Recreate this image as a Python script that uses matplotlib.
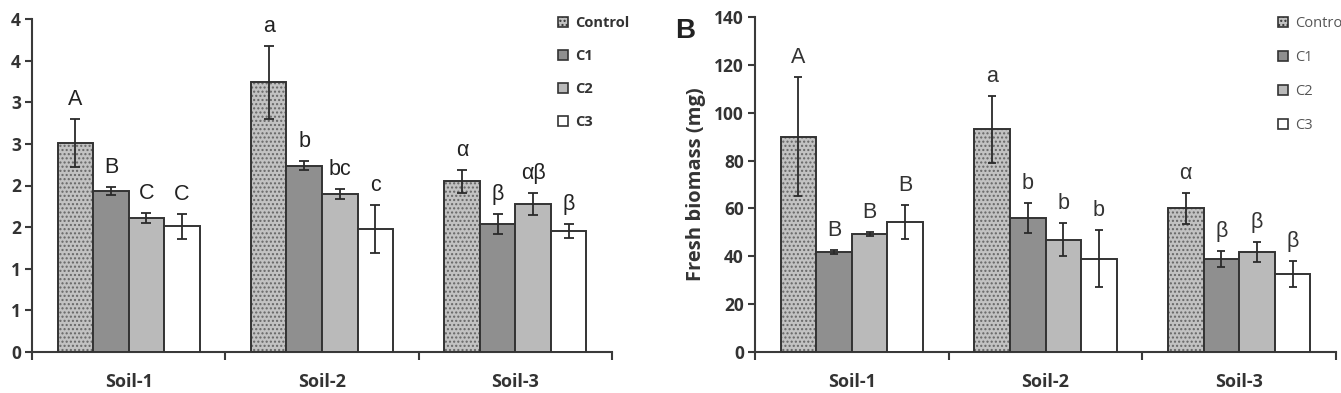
import matplotlib
matplotlib.use("Agg")
import matplotlib.pyplot as plt
from matplotlib.patches import Patch
import numpy as np

soils = ["Soil-1", "Soil-2", "Soil-3"]
treatments = ["Control", "C1", "C2", "C3"]

# Panel A (values per treatment, across soils)
a_vals = {
    "Control": [2.51, 3.24, 2.05],
    "C1": [1.93, 2.24, 1.54],
    "C2": [1.61, 1.90, 1.78],
    "C3": [1.51, 1.48, 1.45],
}
a_err = {
    "Control": [0.29, 0.44, 0.135],
    "C1": [0.05, 0.05, 0.12],
    "C2": [0.06, 0.06, 0.13],
    "C3": [0.15, 0.29, 0.085],
}
a_letters = {
    "Control": ["A", "a", "α"],
    "C1": ["B", "b", "β"],
    "C2": ["C", "bc", "αβ"],
    "C3": ["C", "c", "β"],
}
a_ticks = [0, 0.5, 1, 1.5, 2, 2.5, 3, 3.5, 4]
a_ticklabels = ["0", "1", "1", "2", "2", "3", "3", "4", "4"]

# Panel B: fresh biomass (mg)
b_vals = {
    "Control": [90, 93, 60],
    "C1": [41.8, 56, 38.9],
    "C2": [49.3, 47, 41.8],
    "C3": [54.3, 39, 32.5],
}
b_err = {
    "Control": [25, 14, 6.3],
    "C1": [1.0, 6.3, 3.5],
    "C2": [1.0, 7.0, 4.0],
    "C3": [7.0, 12, 5.5],
}
b_letters = {
    "Control": ["A", "a", "α"],
    "C1": ["B", "b", "β"],
    "C2": ["B", "b", "β"],
    "C3": ["B", "b", "β"],
}
b_ticks = [0, 20, 40, 60, 80, 100, 120, 140]

colors = {"Control": "#c2c2c2", "C1": "#8f8f8f", "C2": "#bababa", "C3": "#ffffff"}
edge = "#333333"
W = 1341
H = 393

fig = plt.figure(figsize=(13.41, 3.93), dpi=100)
axA = fig.add_axes([32 / W, 1 - 352 / H, (612 - 32) / W, (352 - 19) / H])
axB = fig.add_axes([755 / W, 1 - 352 / H, (1336 - 755) / W, (352 - 17) / H])

bw = 0.184
x = np.arange(len(soils))


def draw(ax, vals, errs, letters, letter_color, capsize):
    for j, t in enumerate(treatments):
        pos = x + (j - 1.5) * bw
        if t == "Control":
            ax.bar(pos, vals[t], bw, color=colors[t], hatch="....",
                   edgecolor="#666666", linewidth=0, zorder=2)
            ax.bar(pos, vals[t], bw, fill=False, edgecolor=edge,
                   linewidth=1.4, zorder=3)
        else:
            ax.bar(pos, vals[t], bw, color=colors[t], edgecolor=edge,
                   linewidth=1.4, zorder=3)
        ax.errorbar(pos, vals[t], yerr=errs[t], fmt="none", ecolor="#2a2a2a",
                    elinewidth=1.3, capsize=capsize, capthick=1.3, zorder=4)
        for k in range(len(soils)):
            ax.annotate(letters[t][k], (pos[k], vals[t][k] + errs[t][k]),
                        xytext=(0, 6.5), textcoords="offset points",
                        ha="center", va="bottom", fontsize=15.5,
                        family="Liberation Sans", color=letter_color, zorder=5)
    ax.set_xlim(-0.5, 2.5)
    ax.spines["top"].set_visible(False)
    ax.spines["right"].set_visible(False)
    for s in ["left", "bottom"]:
        ax.spines[s].set_color("#3a3a3a")
        ax.spines[s].set_linewidth(1.5)
    ax.set_xticks([-0.5, 0.5, 1.5, 2.5])
    ax.set_xticklabels([])
    ax.set_xticks(x, minor=True)
    ax.set_xticklabels(soils, minor=True, fontsize=13, fontweight="bold",
                       family="Open Sans", color="#333333")
    ax.tick_params(axis="x", which="major", direction="out", length=6,
                   width=1.5, color="#3a3a3a")
    ax.tick_params(axis="x", which="minor", length=0, pad=15)
    ax.tick_params(axis="y", direction="out", length=5, width=1.5,
                   color="#3a3a3a", pad=3)


draw(axA, a_vals, a_err, a_letters, "#222222", 3.3)
draw(axB, b_vals, b_err, b_letters, "#333333", 3.0)

axA.set_ylim(0, 4)
axA.set_yticks(a_ticks)
axA.set_yticklabels(a_ticklabels, fontsize=12.5, fontweight="bold",
                    family="Open Sans", color="#333333")

axB.set_ylim(0, 140)
axB.set_yticks(b_ticks)
axB.set_yticklabels([str(v) for v in b_ticks], fontsize=12.5, fontweight="bold",
                    family="Open Sans", color="#333333")
axB.set_ylabel("Fresh biomass (mg)", fontsize=14.5, fontweight="bold",
               family="Open Sans", color="#333333", labelpad=6)

fig.text(685 / W, 1 - 31 / H, "B", fontsize=20, fontweight="bold",
         family="Liberation Sans", ha="center", va="center", color="#222222")


def legend_handles():
    hs = []
    for t in treatments:
        if t == "Control":
            hs.append(Patch(facecolor=colors[t], edgecolor=edge, hatch="....",
                            linewidth=1.2))
        else:
            hs.append(Patch(facecolor=colors[t], edgecolor=edge, linewidth=1.2))
    return hs


legA = fig.legend(legend_handles(), treatments, loc="upper left",
                  bbox_to_anchor=(558 / W, 1 - 16 / H), frameon=False,
                  borderpad=0, borderaxespad=0, handlelength=0.7,
                  handleheight=0.7, handletextpad=0.45, labelspacing=1.3,
                  prop={"family": "Open Sans", "weight": "bold", "size": 10.5})
for t in legA.get_texts():
    t.set_color("#333333")

legB = fig.legend(legend_handles(), treatments, loc="upper left",
                  bbox_to_anchor=(1278 / W, 1 - 16 / H), frameon=False,
                  borderpad=0, borderaxespad=0, handlelength=0.7,
                  handleheight=0.7, handletextpad=0.45, labelspacing=1.3,
                  prop={"family": "Open Sans", "size": 10.5})
for t in legB.get_texts():
    t.set_color("#555555")

fig.savefig("out.png", dpi=100)
